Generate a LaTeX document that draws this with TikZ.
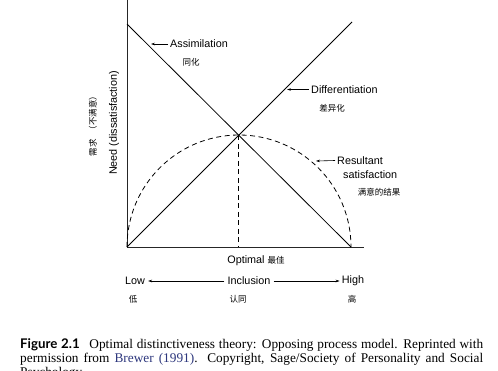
\documentclass[tikz,border=0pt]{standalone}
\usepackage{fontspec}
\setmainfont{Liberation Serif}
\setsansfont{Liberation Sans}
\newfontfamily\cjk{Noto Sans CJK SC}
\newfontfamily\capsans{Lato}
\usetikzlibrary{arrows.meta}
\definecolor{refblue}{RGB}{45,55,125}
\begin{document}
\begin{tikzpicture}[x=1pt,y=-1pt,
  axisline/.style={line width=0.8pt,black!85},
  curveline/.style={line width=0.8pt},
  dashline/.style={line width=0.8pt,dash pattern=on 5pt off 3.5pt},
  lbl/.style={font=\sffamily\fontsize{10.8}{12}\selectfont,inner sep=0pt},
  cjklbl/.style={font=\cjk\fontsize{8.5}{10}\selectfont,inner sep=0pt},
  capfont/.style={anchor=base west,inner sep=0pt,font=\fontsize{13.3}{14}\selectfont},
  ptr/.style={line width=0.6pt,-{Stealth[length=4pt,width=2.6pt]}}]
\clip (0,0) rectangle (498,370);
\fill[white] (0,0) rectangle (498,370);
% axes
\coordinate (O) at (127,247);
\coordinate (Ytop) at (127,0);
\coordinate (Xend) at (364,247);
\draw[axisline] (Ytop) -- (O) -- (Xend);
% lines
\coordinate (A1) at (127,24);
\coordinate (A2) at (351,247);
\coordinate (D2) at (352,22);
\coordinate (I) at (238.75,135.25);
\coordinate (Ib) at (238.75,247);
\draw[curveline] (A1) -- (A2);
\draw[curveline] (O) -- (D2);
\draw[dashline] (I) -- (Ib);
\draw[dashline] (O) arc[start angle=180,end angle=360,x radius=112,y radius=112];
% labels on lines
\node[lbl,anchor=west] (assim) at (170,44) {Assimilation};
\coordinate (assimtip) at (151,44);
\draw[ptr] ([xshift=-2pt]assim.west) -- (assimtip);
\node[cjklbl] (assimc) at (191,62) {同化};
\node[lbl,anchor=west] (diff) at (311,89.5) {Differentiation};
\coordinate (difftip) at (287,89.5);
\draw[ptr] ([xshift=-2pt]diff.west) -- (difftip);
\node[cjklbl] (diffc) at (332,108) {差异化};
\node[lbl,anchor=west] (res) at (337,160.5) {Resultant};
\coordinate (restip) at (316,161);
\draw[ptr] ([xshift=-2pt]res.west) -- (restip);
\node[lbl,anchor=west] (sat) at (343,174.5) {satisfaction};
\node[cjklbl] (resc) at (379,192) {满意的结果};
% y axis labels
\node[lbl,rotate=90] (need) at (114,123) {Need (dissatisfaction)};
\node[cjklbl,rotate=90] (needc) at (93,124) {需求\hspace{5pt}（不满意）};
% x axis labels
\node[lbl] (opt) at (256,261) {Optimal {\cjk\fontsize{8.5}{10}\selectfont 最佳}};
\node[lbl] (low) at (135,281) {Low};
\node[lbl] (incl) at (249,281) {Inclusion};
\node[lbl] (high) at (353,281) {High};
\draw[ptr] ([xshift=-3pt]incl.west) -- ([xshift=3pt]low.east);
\draw[ptr] ([xshift=3pt]incl.east) -- ([xshift=-2pt]high.west);
\node[cjklbl] (lowc) at (133,299) {低};
\node[cjklbl] (inclc) at (238,299) {认同};
\node[cjklbl] (highc) at (352,299) {高};
% caption
\node[capfont] (cap1) at (20,348)
  {\makebox[463pt][s]{{\capsans\bfseries Figure 2.1}\hspace{6pt} Optimal distinctiveness theory: Opposing process model. Reprinted with}};
\node[capfont] (cap2) at (20,362)
  {\makebox[463pt][s]{permission from \textcolor{refblue}{Brewer (1991)}. Copyright, Sage/Society of Personality and Social}};
\node[capfont] (cap3) at (20,376) {Psychology.};
\end{tikzpicture}
\end{document}
